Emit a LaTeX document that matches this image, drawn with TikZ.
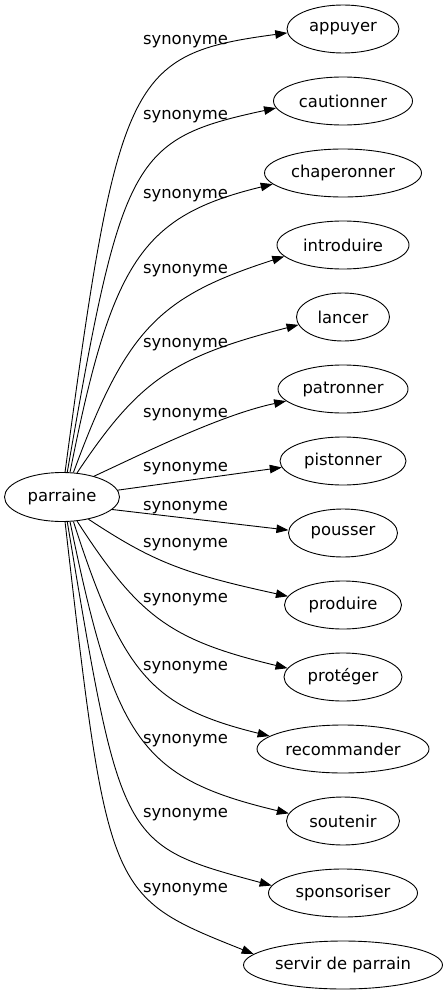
\documentclass[tikz,border=0pt]{standalone}
\usepackage{fontspec}
\newfontfamily\dv{DejaVu Sans}
\usetikzlibrary{shapes.geometric,arrows.meta}
\begin{document}
\begin{tikzpicture}[x=1pt,y=-1pt,
  nd/.style={draw, ellipse, inner sep=0pt, line width=0.9pt, minimum height=48pt, font=\dv\fontsize{16.4}{19}\selectfont},
  lab/.style={anchor=base, inner sep=0pt, font=\dv\fontsize{16.4}{19}\selectfont},
  ed/.style={line width=0.9pt, -{Triangle[length=12pt,width=8.5pt]}}]
\useasboundingbox (0,0) rectangle (447,995);
\node[nd, minimum width=115pt, minimum height=49pt] (par) at (62,497) {parraine};
\node[nd, minimum width=112pt] (n1) at (343,29) {appuyer};
\node[nd, minimum width=139pt] (n2) at (343,101) {cautionner};
\node[nd, minimum width=157pt] (n3) at (343,173) {chaperonner};
\node[nd, minimum width=132pt] (n4) at (343,245) {introduire};
\node[nd, minimum width=93pt] (n5) at (343,317) {lancer};
\node[nd, minimum width=130pt] (n6) at (343,389) {patronner};
\node[nd, minimum width=126pt] (n7) at (343,461) {pistonner};
\node[nd, minimum width=109pt] (n8) at (343,533) {pousser};
\node[nd, minimum width=117pt] (n9) at (343,605) {produire};
\node[nd, minimum width=118pt] (n10) at (343,677) {protéger};
\node[nd, minimum width=172pt] (n11) at (343,749) {recommander};
\node[nd, minimum width=113pt] (n12) at (343,821) {soutenir};
\node[nd, minimum width=149pt] (n13) at (343,893) {sponsoriser};
\node[nd, minimum width=199pt] (n14) at (343,965) {servir de parrain};

\draw[ed] (par.83) .. controls (118,76) and (129,54) .. (n1.184);
\draw[ed] (par.78) .. controls (122,157) and (132,139) .. (n2.186);
\draw[ed] (par.72) .. controls (112,260) and (142,216) .. (n3.189);
\draw[ed] (par.65) .. controls (126,330) and (158,297) .. (n4.191);
\draw[ed] (par.58) .. controls (139,380) and (173,357) .. (n5.190);
\draw[ed] (par.33) .. controls (140,455) and (220,415) .. (n6.192);
\draw[ed] (par.7) -- (n7.186);
\draw[ed] (par.346) -- (n8.177);
\draw[ed] (par.320) .. controls (152,561) and (181,573) .. (n9.171);
\draw[ed] (par.302) .. controls (139,617) and (170,640) .. (n10.171);
\draw[ed] (par.295) .. controls (123,675) and (152,707) .. (n11.170);
\draw[ed] (par.288) .. controls (115,740) and (140,778) .. (n12.172);
\draw[ed] (par.282) .. controls (121,845) .. (n13.174);
\draw[ed] (par.277) .. controls (108,896) .. (n14.173);

\node[lab] (l1) at (185.5,45) {synonyme};
\node[lab] (l2) at (185.5,120) {synonyme};
\node[lab] (l3) at (185.5,198) {synonyme};
\node[lab] (l4) at (185.5,273) {synonyme};
\node[lab] (l5) at (185.5,347) {synonyme};
\node[lab] (l6) at (185.5,417) {synonyme};
\node[lab] (l7) at (185.5,471) {synonyme};
\node[lab] (l8) at (185.5,510) {synonyme};
\node[lab] (l9) at (185.5,547) {synonyme};
\node[lab] (l10) at (185.5,602) {synonyme};
\node[lab] (l11) at (185.5,670) {synonyme};
\node[lab] (l12) at (185.5,743) {synonyme};
\node[lab] (l13) at (185.5,817) {synonyme};
\node[lab] (l14) at (185.5,892) {synonyme};
\end{tikzpicture}
\end{document}
